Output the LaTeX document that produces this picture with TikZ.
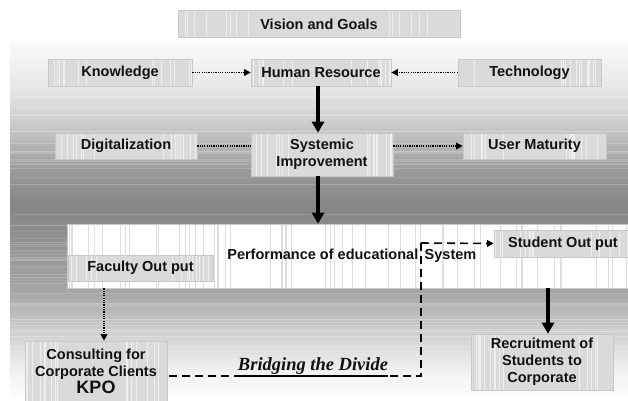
\documentclass[tikz,border=0pt]{standalone}
\usepackage{fontspec}
\setmainfont{Liberation Sans}
\newfontfamily\bridgefont{Liberation Serif}
\usetikzlibrary{arrows.meta,calc}

\definecolor{bgA}{HTML}{FAFAFA}
\definecolor{bgB}{HTML}{E6E6E6}
\definecolor{bgC}{HTML}{C4C4C4}
\definecolor{bgD}{HTML}{9A9A9A}
\definecolor{bgE}{HTML}{858585}
\definecolor{bgF}{HTML}{A4A4A4}
\definecolor{bgG}{HTML}{CDCDCD}
\definecolor{bgH}{HTML}{F0F0F0}
\definecolor{bgI}{HTML}{FFFFFF}
\definecolor{boxfill}{HTML}{DADADA}
\definecolor{boxedge}{HTML}{C8C8C8}
\definecolor{perfstripe}{HTML}{DEDEDE}
\definecolor{ink}{HTML}{111111}

% backdrop: light at the top, darkest around the middle, white at the foot
\pgfdeclareverticalshading{backdrop}{100bp}{%
  color(0bp)=(bgI); color(25bp)=(bgI); color(29.2bp)=(bgH);
  color(34.8bp)=(bgG); color(40.4bp)=(bgF); color(52.2bp)=(bgE);
  color(57.1bp)=(bgD); color(62.7bp)=(bgC); color(68.3bp)=(bgB);
  color(75bp)=(bgA); color(100bp)=(bgA)}

% vertical streaks inside a panel, crowded towards its two ends
\newcommand\panelstreaks[3]{%
  \foreach \k in {1,...,#2}{%
    \pgfmathsetmacro\u{rnd<0.5 ? #3*rnd : 1-#3*rnd}%
    \pgfmathsetmacro\w{0.3+0.9*rnd}%
    \draw[#1, line width=\w pt]
      ($(path picture bounding box.south west)!\u!(path picture bounding box.south east)$) --
      ($(path picture bounding box.north west)!\u!(path picture bounding box.north east)$);
  }}

\tikzset{
  panel/.style={fill=boxfill, draw=boxedge, line width=0.6pt, text=ink,
    font=\bfseries\fontsize{14.5}{17}\selectfont, align=center, inner sep=0pt,
    path picture={\panelstreaks{white!55!boxfill}{16}{0.3}}},
  perfpanel/.style={fill=white, draw=boxedge, line width=0.6pt, text=ink,
    font=\bfseries\fontsize{14.5}{17}\selectfont, inner sep=0pt,
    path picture={\panelstreaks{perfstripe}{55}{0.5}}},
  heavy/.style={line width=3.6pt, -{Triangle[width=12pt,length=11pt]}},
  dotline/.style={line width=1.8pt, dash pattern=on 1.2pt off 1.1pt},
  dotarrow/.style={dotline, -{Triangle[width=6.5pt,length=6.5pt]}},
  dashline/.style={line width=1.6pt, dash pattern=on 8pt off 5pt},
}

\begin{document}
\begin{tikzpicture}[x=1pt, y=-1pt]
\pgfmathsetseed{11}
\useasboundingbox (0,0) rectangle (628,400);
\fill[white] (0,0) rectangle (628,400);

% backdrop with faint horizontal banding
\shade[shading=backdrop] (10,42) rectangle (628,400);
\foreach \k in {1,...,90}{%
  \pgfmathsetmacro\yy{44+354*rnd}%
  \pgfmathsetmacro\op{0.06+0.18*rnd}%
  \draw[white, opacity=\op, line width=0.8pt] (10,\yy) -- (628,\yy);
}

% top rows
\node[panel, minimum width=282pt, minimum height=27pt] (vision) at (319,24) {Vision and Goals};
\node[panel, minimum width=144pt, minimum height=27pt] (know) at (120,72.5) {Knowledge};
\node[panel, minimum width=140pt, minimum height=27pt] (hr) at (321,72.5) {Human Resource};
\node[panel, minimum width=143pt, minimum height=27pt] (tech) at (529.5,72.5) {Technology};

\node[panel, minimum width=142pt, minimum height=26pt] (digit) at (126,146) {Digitalization};
\node[panel, minimum width=142pt, minimum height=43pt] (sys) at (322,154.5) {Systemic\\Improvement};
\node[panel, minimum width=143pt, minimum height=26pt] (user) at (534.5,146) {User Maturity};

% performance band with its two outputs
\node[perfpanel, minimum width=566pt, minimum height=64pt] (perf) at (350,256) {};
\node[anchor=base east, inner sep=0pt, text=ink, font=\bfseries\fontsize{14.5}{17}\selectfont]
  (perfa) at (418.5,259) {Performance of educational};
\node[anchor=base west, inner sep=0pt, text=ink, font=\bfseries\fontsize{14.5}{17}\selectfont]
  (perfb) at (424.5,259) {System};
\node[panel, minimum width=145pt, minimum height=26pt] (faculty) at (140.5,268) {Faculty Out put};
\node[panel, minimum width=138pt, minimum height=27pt] (student) at (563,243.5) {Student Out put};

% bottom row
\node[panel, minimum width=142pt, minimum height=60pt] (consult) at (96,371)
  {Consulting for\\Corporate Clients\\{\fontsize{18}{20}\selectfont KPO}};
\node[panel, minimum width=142pt, minimum height=56pt] (recruit) at (542,362)
  {Recruitment of\\Students to\\Corporate};

% connectors
\draw[dotarrow] (know) -- (hr);
\draw[dotarrow] (tech) -- (hr);
\draw[heavy] (hr.south -| 318,0) -- (sys.north -| 318,0);
\draw[dotline] (digit) -- (digit -| sys.west);
\draw[dotarrow] (sys.east |- user) -- (user);
\draw[heavy] (sys.south -| 318,0) -- (perf.north -| 318,0);

\coordinate (fdrop) at ([xshift=8pt]consult.north);
\draw[dotarrow] (perf.south -| fdrop) -- (fdrop);
\coordinate (rdrop) at ([xshift=6pt]recruit.north);
\draw[heavy] (perf.south -| rdrop) -- (rdrop);

% the dashed link between the two outputs
\coordinate (split) at (421,243);
\coordinate (bend) at (421,376);
\draw[dashline, -{Triangle[width=6.5pt,length=6.5pt]}] (split) -- (student.west);
\draw[dashline] (split) -- (bend) -- (consult.east |- bend);
\node[anchor=south, inner xsep=0pt, inner ysep=1.6pt, text=ink,
      font=\bridgefont\bfseries\itshape\fontsize{18.5}{20}\selectfont] (bridge) at (313,376)
  {Bridging the Divide};
\draw[line width=1.6pt] (bridge.south west) -- (bridge.south east);
\end{tikzpicture}
\end{document}
